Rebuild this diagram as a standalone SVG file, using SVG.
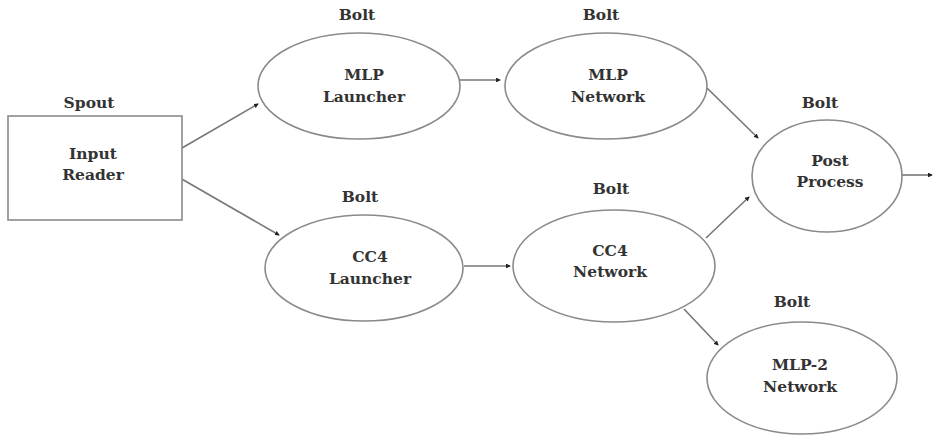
<svg xmlns="http://www.w3.org/2000/svg" width="934" height="436" viewBox="0 0 934 436">
<style>
.n{fill:#fff;stroke:#8a8a8a;stroke-width:1.6}
.t{font-family:"DejaVu Serif","Liberation Serif",serif;font-weight:bold;font-size:15.5px;fill:#333;text-anchor:middle}
.e{fill:none;stroke:#777;stroke-width:1.6;marker-end:url(#dot)}
</style>
<defs>
<marker id="dot" viewBox="0 0 6 6" refX="5" refY="3" markerWidth="3" markerHeight="3" markerUnits="strokeWidth" orient="auto">
<path d="M0,0 L6,3 L0,6 z" fill="#222"/>
</marker>
</defs>
<rect width="934" height="436" fill="#fff"/>
<g id="connectors">
<line class="e" x1="182" y1="148" x2="258" y2="104"/>
<line class="e" x1="180" y1="178" x2="279" y2="235"/>
<line class="e" x1="458" y1="80" x2="500" y2="80"/>
<line class="e" x1="464" y1="266" x2="510" y2="266"/>
<line class="e" x1="707" y1="88" x2="758" y2="138"/>
<line class="e" x1="706" y1="238" x2="749" y2="197"/>
<line class="e" x1="684" y1="309" x2="718" y2="345"/>
<line class="e" x1="902" y1="175" x2="932" y2="175"/>
</g>
<g id="input-reader">
<rect class="n" x="8" y="116" width="174" height="104"/>
<text class="t" x="89" y="108">Spout</text>
<text class="t" x="93" y="159">Input</text>
<text class="t" x="93" y="180">Reader</text>
</g>
<g id="mlp-launcher">
<ellipse class="n" cx="359" cy="86" rx="101" ry="53"/>
<text class="t" x="357" y="20">Bolt</text>
<text class="t" x="364" y="80">MLP</text>
<text class="t" x="364" y="102">Launcher</text>
</g>
<g id="mlp-network">
<ellipse class="n" cx="606" cy="86" rx="101" ry="53"/>
<text class="t" x="601" y="20">Bolt</text>
<text class="t" x="608" y="80">MLP</text>
<text class="t" x="608" y="102">Network</text>
</g>
<g id="cc4-launcher">
<ellipse class="n" cx="364" cy="268" rx="99" ry="53"/>
<text class="t" x="360" y="202">Bolt</text>
<text class="t" x="370" y="262">CC4</text>
<text class="t" x="370" y="284">Launcher</text>
</g>
<g id="cc4-network">
<ellipse class="n" cx="614" cy="266" rx="101" ry="56"/>
<text class="t" x="611" y="194">Bolt</text>
<text class="t" x="610" y="256">CC4</text>
<text class="t" x="610" y="277">Network</text>
</g>
<g id="post-process">
<ellipse class="n" cx="827" cy="176" rx="75" ry="56"/>
<text class="t" x="820" y="108">Bolt</text>
<text class="t" x="830" y="166">Post</text>
<text class="t" x="830" y="187">Process</text>
</g>
<g id="mlp2-network">
<ellipse class="n" cx="802" cy="378" rx="95" ry="56"/>
<text class="t" x="792" y="307">Bolt</text>
<text class="t" x="800" y="370">MLP-2</text>
<text class="t" x="800" y="392">Network</text>
</g>
</svg>
